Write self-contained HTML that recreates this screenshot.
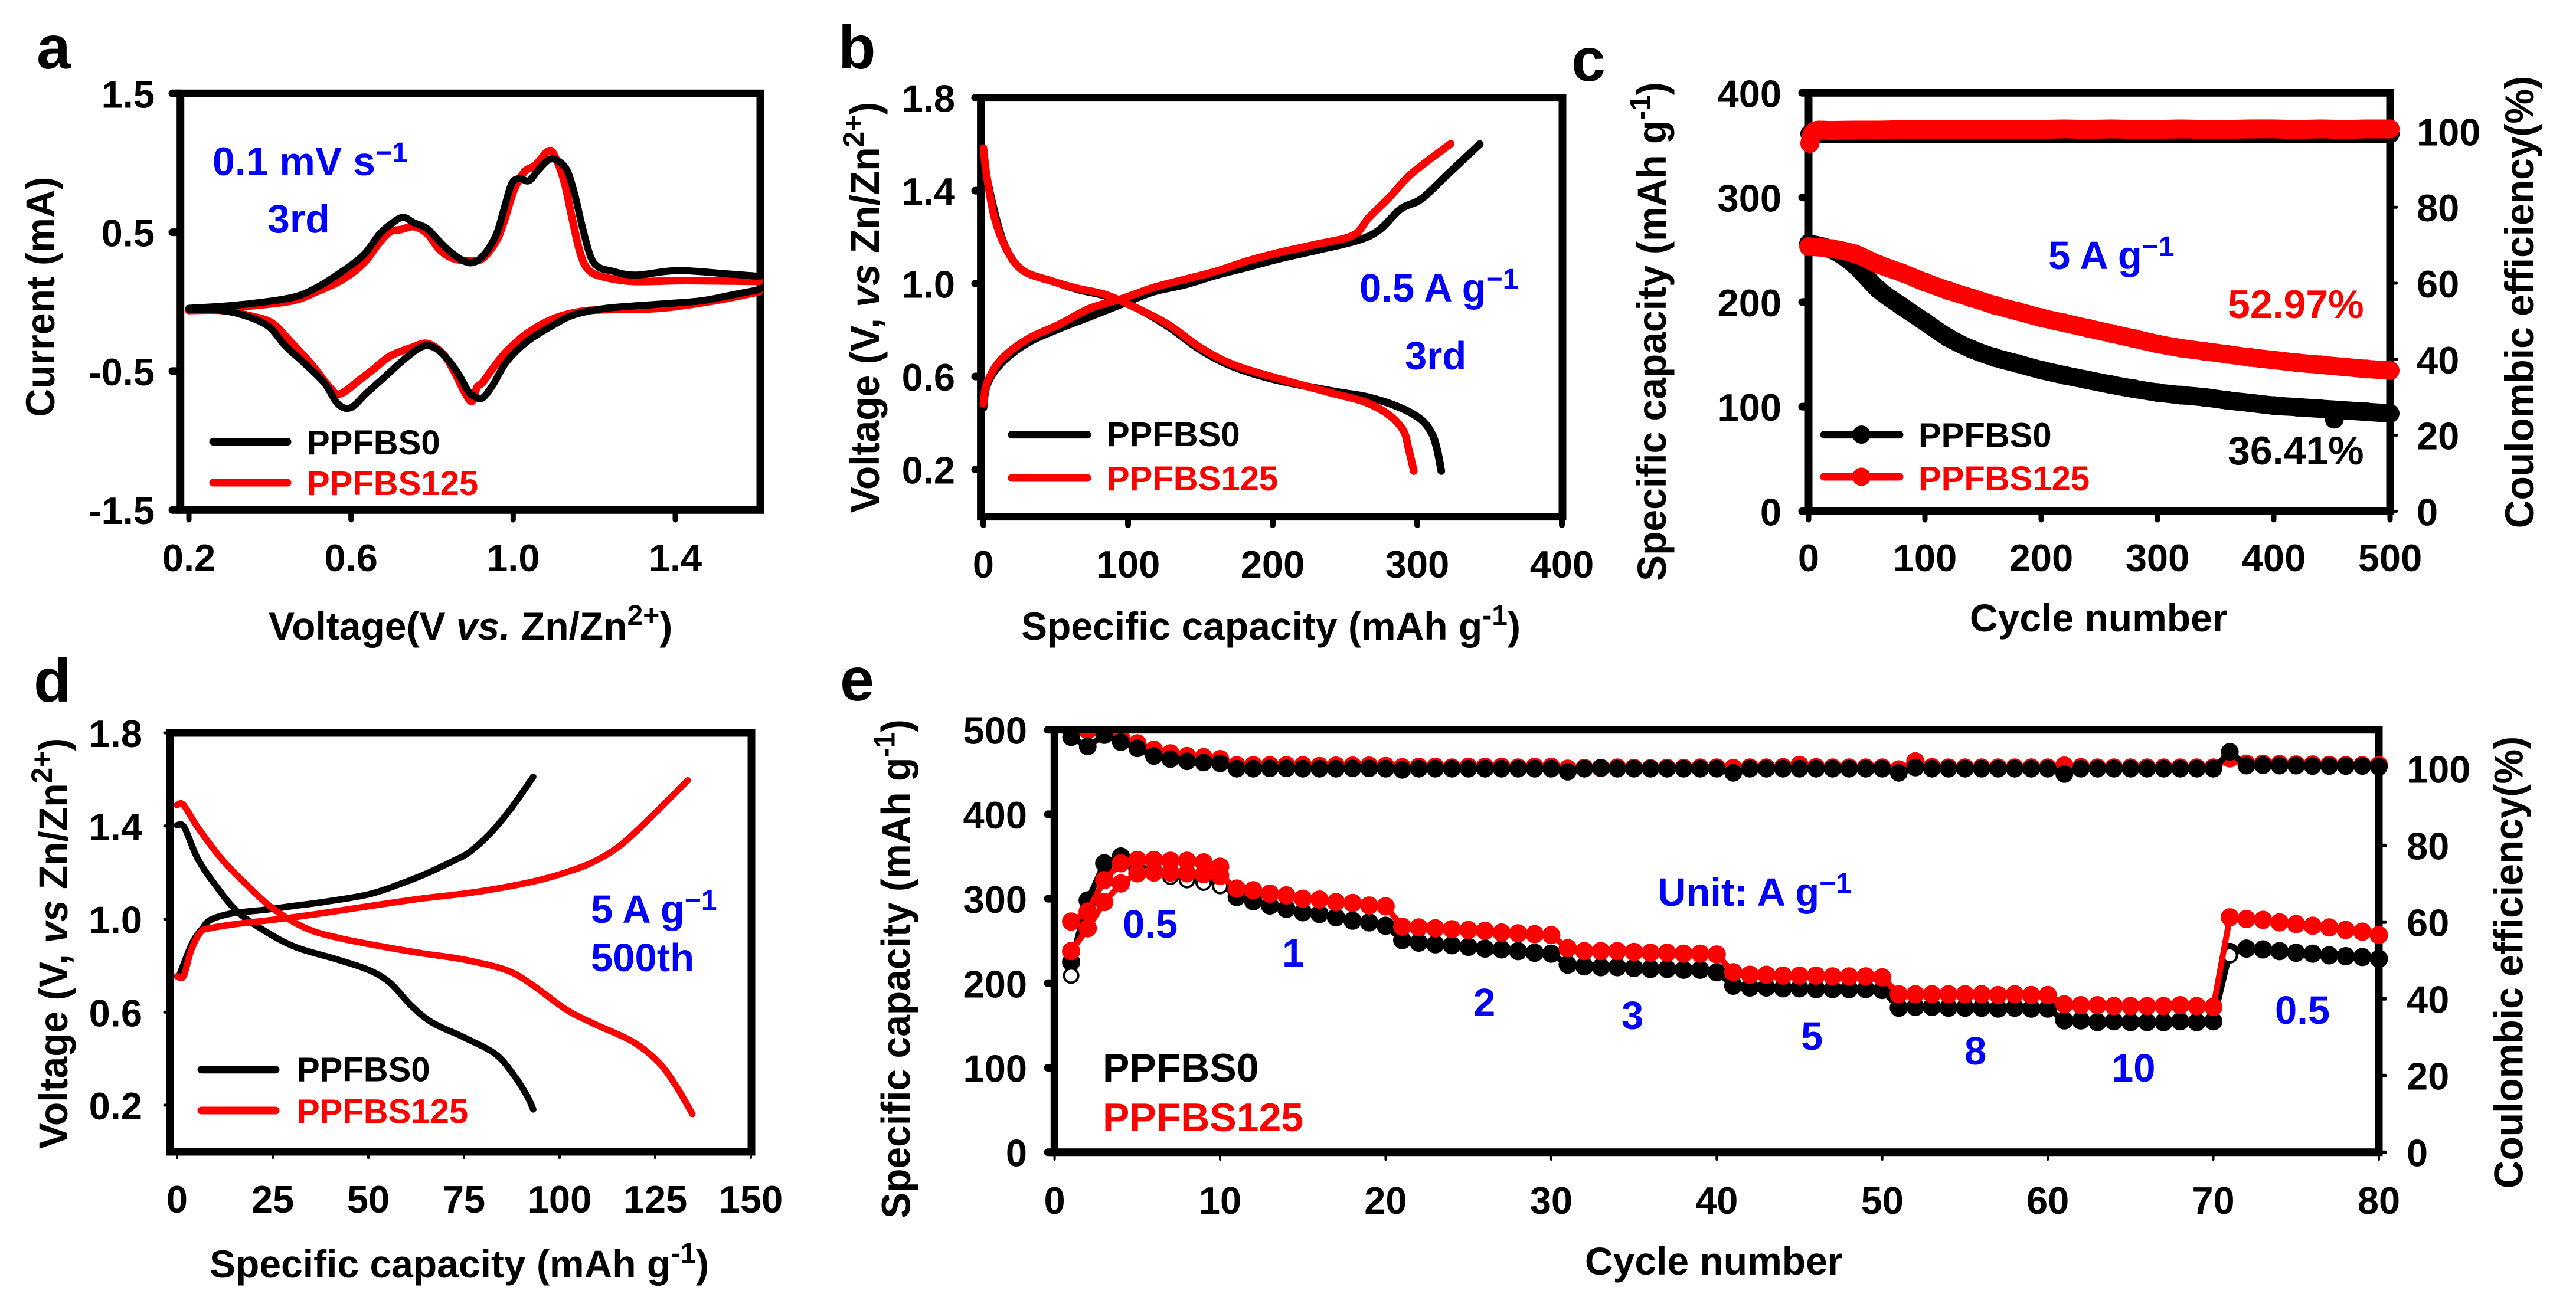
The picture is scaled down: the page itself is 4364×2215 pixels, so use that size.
<!DOCTYPE html>
<html lang="en">
<head>
<meta charset="utf-8">
<title>PPFBS battery performance figure</title>
<style>
html,body{margin:0;padding:0;background:#fff}
svg{display:block}
text{font-family:"Liberation Sans",Arial,sans-serif;font-weight:700}
.ttl{font-size:66px}
.lg{font-size:58px}
.an{font-size:67px;fill:#0000ff}
.pn{font-size:104px}
.frame{fill:none;stroke:#000;stroke-width:13}
</style>
</head>
<body>
<svg id="fig" xmlns="http://www.w3.org/2000/svg" width="4364" height="2215" viewBox="0 0 4364 2215">
<rect x="0" y="0" width="4364" height="2215" fill="#fff"/>
<defs><clipPath id="eClip"><rect x="1700" y="1243" width="2500" height="720"/></clipPath></defs>

<!-- Panel a -->
<g id="panel-a">
<text class="pn" x="62" y="116">a</text>
<rect class="frame" x="305.7" y="158.3" width="982.3" height="706"/>
<g id="a-ticks"></g><g id="a-marks"></g>
<text class="ttl" x="455" y="1084">Voltage(V <tspan font-style="italic">vs.</tspan> Zn/Zn<tspan dy="-25" font-size="48">2+</tspan><tspan dy="25">)</tspan></text>
<text class="ttl" text-anchor="middle" transform="translate(92 503) rotate(-90) scale(1 1.04)">Current (mA)</text>
<text class="an" style="font-size:68px" x="360" y="297">0.1 mV s<tspan dy="-22" font-size="48">−1</tspan></text>
<text class="an" style="font-size:68px" x="453" y="394">3rd</text>
<line x1="361" y1="748.5" x2="487" y2="748.5" stroke="#000" stroke-width="13" stroke-linecap="round"/>
<line x1="361" y1="818" x2="487" y2="818" stroke="#f00" stroke-width="13" stroke-linecap="round"/>
<text class="lg" x="520" y="770">PPFBS0</text>
<text class="lg" fill="#f00" x="520" y="839">PPFBS125</text>
</g>

<!-- Panel b -->
<g id="panel-b">
<text class="pn" x="1420" y="116">b</text>
<rect class="frame" x="1661.6" y="165.6" width="985.4" height="710"/>
<g id="b-ticks"></g><g id="b-marks"></g>
<text class="ttl" x="1730" y="1084">Specific capacity (mAh g<tspan dy="-25" font-size="48">-1</tspan><tspan dy="25">)</tspan></text>
<text class="ttl" text-anchor="middle" transform="translate(1489 521) rotate(-90) scale(1 1.04)">Voltage (V, <tspan font-style="italic">vs</tspan> Zn/Zn<tspan dy="-25" font-size="48">2+</tspan><tspan dy="25">)</tspan></text>
<text class="an" x="2303" y="511">0.5 A g<tspan dy="-22" font-size="48">−1</tspan></text>
<text class="an" x="2380" y="626">3rd</text>
<line x1="1714" y1="736.6" x2="1842" y2="736.6" stroke="#000" stroke-width="13" stroke-linecap="round"/>
<line x1="1714" y1="810" x2="1842" y2="810" stroke="#f00" stroke-width="13" stroke-linecap="round"/>
<text class="lg" x="1875" y="756">PPFBS0</text>
<text class="lg" fill="#f00" x="1875" y="831">PPFBS125</text>
</g>

<!-- Panel c -->
<g id="panel-c">
<text class="pn" x="2662" y="137">c</text>
<rect class="frame" x="3064" y="157.3" width="985" height="709"/>
<g id="c-ticks"></g><g id="c-marks"></g>
<text class="ttl" x="3337" y="1070">Cycle number</text>
<text class="ttl" text-anchor="middle" transform="translate(2822 562) rotate(-90) scale(1 1.04)">Specific capacity (mAh g<tspan dy="-25" font-size="48">-1</tspan><tspan dy="25">)</tspan></text>
<text class="ttl" text-anchor="middle" transform="translate(4292 512) rotate(-90) scale(1 1.04)">Coulombic efficiency(%)</text>
<text class="an" x="3470" y="456">5 A g<tspan dy="-22" font-size="48">−1</tspan></text>
<text class="an" style="fill:#f00;font-size:68px" x="3774" y="539">52.97%</text>
<text class="an" style="fill:#000;font-size:68px" x="3774" y="787">36.41%</text>
<line x1="3090" y1="736.6" x2="3218" y2="736.6" stroke="#000" stroke-width="13" stroke-linecap="round"/>
<circle cx="3153.5" cy="736.6" r="15.5" fill="#000"/>
<line x1="3090" y1="808" x2="3218" y2="808" stroke="#f00" stroke-width="13" stroke-linecap="round"/>
<circle cx="3153.5" cy="808" r="15.5" fill="#f00"/>
<text class="lg" x="3250" y="757.6">PPFBS0</text>
<text class="lg" fill="#f00" x="3250" y="831">PPFBS125</text>
</g>

<!-- Panel d -->
<g id="panel-d">
<text class="pn" x="57" y="1189">d</text>
<rect class="frame" x="288.4" y="1242" width="984.6" height="710"/>
<g id="d-ticks"></g><g id="d-marks"></g>
<text class="ttl" x="355" y="2165">Specific capacity (mAh g<tspan dy="-25" font-size="48">-1</tspan><tspan dy="25">)</tspan></text>
<text class="ttl" text-anchor="middle" transform="translate(114 1599) rotate(-90) scale(1 1.04)">Voltage (V, <tspan font-style="italic">vs</tspan> Zn/Zn<tspan dy="-25" font-size="48">2+</tspan><tspan dy="25">)</tspan></text>
<text class="an" x="1001" y="1564">5 A g<tspan dy="-22" font-size="48">−1</tspan></text>
<text class="an" x="1001" y="1646">500th</text>
<line x1="341" y1="1812.7" x2="467" y2="1812.7" stroke="#000" stroke-width="13" stroke-linecap="round"/>
<line x1="341" y1="1882" x2="467" y2="1882" stroke="#f00" stroke-width="13" stroke-linecap="round"/>
<text class="lg" x="503" y="1832.6">PPFBS0</text>
<text class="lg" fill="#f00" x="503" y="1903.7">PPFBS125</text>
</g>

<!-- Panel e -->
<g id="panel-e">
<text class="pn" x="1423" y="1187">e</text>
<rect class="frame" x="1786.3" y="1236.7" width="2243.7" height="716"/>
<g id="e-ticks"></g><g id="e-marks"></g>
<text class="ttl" x="2685" y="2160">Cycle number</text>
<text class="ttl" text-anchor="middle" transform="translate(1541.6 1642) rotate(-90) scale(1 1.04)">Specific capacity (mAh g<tspan dy="-25" font-size="48">-1</tspan><tspan dy="25">)</tspan></text>
<text class="ttl" text-anchor="middle" transform="translate(4273.6 1631) rotate(-90) scale(1 1.04)">Coulombic efficiency(%)</text>
<text class="an" x="2808" y="1535">Unit: A g<tspan dy="-22" font-size="48">−1</tspan></text>
<text class="an" x="1902" y="1589">0.5</text>
<text class="an" x="2172" y="1638">1</text>
<text class="an" x="2496" y="1722">2</text>
<text class="an" x="2747" y="1744">3</text>
<text class="an" x="3051" y="1779">5</text>
<text class="an" x="3328" y="1804">8</text>
<text class="an" x="3577" y="1833">10</text>
<text class="an" x="3854" y="1735">0.5</text>
<text style="font-size:68px" x="1868" y="1833">PPFBS0</text>
<text style="font-size:68px" fill="#f00" x="1868" y="1917">PPFBS125</text>
</g>
</svg>

<script>
// Panel a: cyclic voltammetry
const aBlackUpperV=[.2,.32,.45,.515,.58,.632,.671,.703,.729,.755,.788,.82,.853,.892,.924,.957,.976,.996,1.015,1.039,1.061,1.087,1.106,1.132,1.152,1.171,1.191,1.21,1.243,1.301,1.405,1.529,1.607];
const aBlackUpperI=[-.048,-.024,.027,.101,.221,.34,.489,.569,.608,.569,.525,.429,.34,.28,.325,.474,.653,.847,.886,.871,.945,1.02,1.02,.951,.772,.534,.325,.25,.221,.191,.224,.2,.182];
const aBlackLowerV=[1.607,1.529,1.464,1.36,1.23,1.152,1.1,1.035,.983,.95,.924,.905,.889,.866,.84,.814,.788,.762,.723,.684,.638,.599,.567,.534,.482,.437,.398,.346,.281,.2];
const aBlackLowerI=[.086,.042,.006,-.018,-.048,-.093,-.167,-.286,-.436,-.6,-.695,-.683,-.644,-.525,-.421,-.346,-.316,-.346,-.436,-.54,-.659,-.764,-.734,-.585,-.436,-.316,-.182,-.108,-.063,-.054];
const aRedUpperV=[.2,.32,.45,.515,.58,.632,.671,.697,.723,.755,.788,.82,.853,.892,.924,.957,.976,1.002,1.028,1.054,1.087,1.103,1.126,1.146,1.165,1.184,1.217,1.295,1.425,1.607];
const aRedUpperI=[-.063,-.039,.003,.071,.161,.28,.429,.504,.519,.54,.489,.37,.31,.295,.31,.429,.564,.802,.936,.981,1.085,1.046,.862,.593,.355,.235,.182,.146,.152,.146];
const aRedLowerV=[1.607,1.49,1.36,1.23,1.165,1.1,1.035,.983,.95,.924,.911,.898,.879,.853,.827,.788,.749,.697,.658,.625,.573,.547,.502,.45,.404,.346,.281,.2];
const aRedLowerI=[.071,.003,-.048,-.057,-.072,-.122,-.227,-.361,-.48,-.585,-.615,-.719,-.644,-.495,-.376,-.301,-.331,-.391,-.48,-.555,-.665,-.615,-.45,-.286,-.152,-.099,-.063,-.063];
const aXTicks=[.2,.6,1.0,1.4];
const aXLabels=["0.2","0.6","1.0","1.4"];
const aYTicks=[1.5,.5,-.5,-1.5];
const aYLabels=["1.5","0.5","-0.5","-1.5"];

// Panel b: 0.5 A/g charge-discharge
const bBlackChargeQ=[0,2.5,11.7,29.9,51.7,73.6,95.4,117.3,139.2,161,182.9,204.7,230.2,259.4,274,288.5,303,321.3,343.2];
const bBlackChargeV=[.465,.563,.653,.742,.804,.857,.911,.964,.995,1.036,1.071,1.107,1.143,1.187,1.232,1.321,1.365,1.472,1.6];
const bRedChargeQ=[0,2.5,11.7,29.9,51.7,73.6,95.4,117.3,139.2,161,182.9,204.7,230.2,255.7,266.7,281.2,295.8,323.1];
const bRedChargeV=[.483,.572,.67,.759,.822,.893,.934,.982,1.018,1.053,1.098,1.134,1.169,1.208,1.285,1.374,1.472,1.602];
const bBlackDischargeQ=[0,2.5,9.8,17.1,28.1,48.1,66.3,84.5,106.4,128.2,150.1,172,201.1,241.2,266.7,288.5,303.1,310.4,314,316.6];
const bBlackDischargeV=[1.579,1.454,1.258,1.134,1.053,1.009,.973,.947,.893,.813,.715,.644,.587,.537,.51,.465,.412,.35,.278,.193];
const bRedDischargeQ=[0,2.5,8,17.1,28.1,48.1,66.3,84.5,106.4,128.2,150.1,172,201.1,241.2,263,279.4,290.3,294,297.6];
const bRedDischargeV=[1.583,1.454,1.276,1.134,1.053,1.009,.977,.952,.893,.822,.724,.653,.596,.528,.492,.439,.368,.288,.193];
const bXTicks=[0,100,200,300,400];
const bXLabels=["0","100","200","300","400"];
const bYTicks=[1.8,1.4,1.0,.6,.2];
const bYLabels=["1.8","1.4","1.0","0.6","0.2"];

// Panel c: long-term cycling at 5 A/g
const cCycles=[0,20,40,60,80,100,120,140,160,180,200,220,240,260,280,300,320,340,360,380,400,420,440,460,480,500];
const cBlackCapacity=[256,250,235,212,196,181,166,155,147,141,135,130,125.5,121,117,113.5,111,109,106,103.5,101,99.5,98,96.5,95,93.5];
const cRedCapacity=[253,251,246,236,228,219,211,204,197,191,185,180,175,170,165,160,156,153,150,147,144.5,142,140,138,136,134.5];
const cCECycles=[1,5,20,40,60,80,100,120,140,160,180,200,220,240,260,280,300,320,340,360,380,400,420,440,460,480,500];
const cBlackCE=[99.3,99.3,99.3,99.3,99.3,99.3,99.3,99.3,99.3,99.3,99.3,99.3,99.3,99.3,99.3,99.3,99.3,99.3,99.3,99.3,99.3,99.3,99.3,99.3,99.3,99.3,99.3];
const cRedCE=[96.8,100,100.2,100.3,100.3,100.4,100.4,100.4,100.5,100.4,100.5,100.5,100.6,100.5,100.6,100.5,100.5,100.6,100.5,100.5,100.6,100.6,100.5,100.6,100.5,100.6,100.6];
const cOutlierCycles=[452];
const cOutlierValues=[88];
const cXTicks=[0,100,200,300,400,500];
const cXLabels=["0","100","200","300","400","500"];
const cLeftTicks=[0,100,200,300,400];
const cLeftLabels=["0","100","200","300","400"];
const cRightTicks=[0,20,40,60,80,100];
const cRightLabels=["0","20","40","60","80","100"];

// Panel d: 5 A/g, 500th cycle
const dBlackChargeQ=[.5,4,6.7,8.8,14.3,22.6,30.9,39.1,50.1,58.4,65.3,72.2,76.3,81.8,87.3,93.1];
const dBlackChargeV=[.754,.898,.961,.997,1.024,1.039,1.057,1.075,1.106,1.151,1.196,1.25,1.286,1.367,1.475,1.611];
const dRedChargeQ=[0,1.7,3.6,6.1,8.8,15.7,25.3,36.4,50.1,63.9,77.7,92.8,102.5,109.4,116.3,124.5,133.5];
const dRedChargeV=[.754,.754,.862,.943,.961,.979,.997,1.021,1.055,1.088,1.115,1.16,1.205,1.25,1.322,1.448,1.596];
const dBlackDischargeQ=[0,1.9,5.4,10.2,15.7,22.6,30.9,41.9,50.1,55.6,61.2,66.7,74.9,83.2,88,91.5,93.1];
const dBlackDischargeV=[1.403,1.394,1.259,1.142,1.033,.952,.88,.826,.781,.727,.628,.555,.492,.42,.33,.24,.182];
const dRedDischargeQ=[0,1.7,5.4,11.6,18.5,25.3,33.6,41.9,52.9,63.9,74.9,86,92.8,101.8,109.4,119,125.9,130.7,134.7];
const dRedDischargeV=[1.49,1.49,1.394,1.259,1.142,1.042,.961,.92,.884,.853,.826,.781,.718,.61,.547,.474,.384,.276,.162];
const dXTicks=[0,25,50,75,100,125,150];
const dXLabels=["0","25","50","75","100","125","150"];
const dYTicks=[1.8,1.4,1.0,.6,.2];
const dYLabels=["1.8","1.4","1.0","0.6","0.2"];

// Panel e: rate capability
const eCycles=[1,2,3,4,5,6,7,8,9,10,11,12,13,14,15,16,17,18,19,20,21,22,23,24,25,26,27,28,29,30,31,32,33,34,35,36,37,38,39,40,41,42,43,44,45,46,47,48,49,50,51,52,53,54,55,56,57,58,59,60,61,62,63,64,65,66,67,68,69,70,71,72,73,74,75,76,77,78,79,80];
const eBlackCapacity=[225,298,342,350,335,332,329,326,323,320,302,297,292,288,284,282,278,274,272,268,251,248,246,245,243,241,240,238,236,235,222,220,219,219,218,217,217,216,216,213,197,195,195,194,194,193,193,193,193,192,171,172,172,171,171,171,170,171,170,170,156,156,154,155,154,154,154,155,154,155,237,241,240,238,236,235,233,232,231,229];
const eRedCapacity=[238,265,296,318,330,331,331,330,329,327,312,310,306,304,300,299,296,295,292,291,267,266,265,264,263,262,260,259,258,257,241.5,238,238,238,237,236,236,235,235,234,213,210,210,209,209,209,208,208,208,207,187,187,187,187,187,187,186,187,186,186,175,174,174,173,173,173,173,174,173,172,278,276,275,272,270,268,266,263,261,257];
const eRedEarlyCycles=[1,2,3,4,5,6,7,8,9,10];
const eRedEarlyCapacity=[273,285,322,342,346,346,345,345,343,338];
const eHollowCycles=[1,5,6,7,8,9,10,71];
const eHollowCapacity=[209,333,330,326,322,319,315,233];
const eBlackCE=[108.2,105.8,108.8,106.9,105.3,103.3,102.5,101.9,101.6,101.4,100,100,100.1,100.1,100,100,100,100.1,100.1,100,99.7,100,100,100,100,100,100,100,100,100,99.2,100,100.2,100,100,100,100,100,100,100,98.9,100,100,100,100,100,100,100,100,100,98.9,100.3,100,100,100,100,100,100,100,100,98.6,100,100,100,100,100,100,100,100,100,104.4,100.8,100.9,100.8,100.8,100.7,100.7,100.7,100.7,100.5];
const eRedCE=[111,110,108.8,108.2,106.6,104.9,104,103.3,103,102.5,100.9,100.9,100.9,100.9,100.9,100.7,100.8,100.8,100.8,100.7,100.4,100.5,100.5,100.3,100.5,100.5,100.5,100.3,100.5,100.5,100,100.2,100.2,100.3,100.2,100.1,100.2,100.2,100.3,100.3,100.2,100.3,100.3,100.4,101,100.4,100.3,100.3,100.3,100.3,99.8,101.9,100.4,100.3,100.3,100.3,100.3,100.3,100.3,100.3,100.8,100.4,100.3,100.3,100.3,100.3,100.3,100.3,100.3,100.3,102.7,101.3,101.3,101.2,101.1,101.1,101,100.9,100.9,100.9];
const eXTicks=[0,10,20,30,40,50,60,70,80];
const eXLabels=["0","10","20","30","40","50","60","70","80"];
const eLeftTicks=[0,100,200,300,400,500];
const eLeftLabels=["0","100","200","300","400","500"];
const eRightTicks=[0,20,40,60,80,100];
const eRightLabels=["0","20","40","60","80","100"];

const NS='http://www.w3.org/2000/svg';
const BLACK='#000',RED='#f00';
const TICK_FONT=65;

function scale(d0,d1,r0,r1){return v=>r0+(v-d0)*(r1-r0)/(d1-d0);}

function byId(id){return document.getElementById(id);}

function smoothPath(pts){
  let d='M'+pts[0][0].toFixed(1)+' '+pts[0][1].toFixed(1);
  for(let i=0;i<pts.length-1;i++){
    const p0=pts[Math.max(i-1,0)],p1=pts[i],p2=pts[i+1],p3=pts[Math.min(i+2,pts.length-1)];
    const c1x=p1[0]+(p2[0]-p0[0])/6,c1y=p1[1]+(p2[1]-p0[1])/6;
    const c2x=p2[0]-(p3[0]-p1[0])/6,c2y=p2[1]-(p3[1]-p1[1])/6;
    d+='C'+c1x.toFixed(1)+' '+c1y.toFixed(1)+' '+c2x.toFixed(1)+' '+c2y.toFixed(1)+' '+p2[0].toFixed(1)+' '+p2[1].toFixed(1);
  }
  return d;
}

function drawCurve(parent,xs,ys,sx,sy,color,width,name,straight){
  const el=document.createElementNS(NS,'path');
  
  
  const pts=xs.map((v,i)=>[sx(v),sy(ys[i])]);
  el.setAttribute('d',straight?pts.map((p,i)=>(i?'L':'M')+p[0].toFixed(1)+' '+p[1].toFixed(1)).join(''):smoothPath(pts));
  el.setAttribute('fill','none');
  el.setAttribute('stroke',color);
  el.setAttribute('stroke-width',width);
  el.setAttribute('stroke-linejoin','round');
  el.setAttribute('stroke-linecap','round');
  parent.appendChild(el);
}

function drawPoints(parent,xs,ys,sx,sy,color,r,name,hollow){
  xs.forEach((v,i)=>{
    const el=document.createElementNS(NS,'circle');
    
    
    el.setAttribute('cx',sx(v).toFixed(1));
    el.setAttribute('cy',sy(ys[i]).toFixed(1));
    el.setAttribute('r',r);
    if(hollow){
      el.setAttribute('fill','#fff');
      el.setAttribute('stroke',color);
      el.setAttribute('stroke-width','4');
    }else{
      el.setAttribute('fill',color);
    }
    parent.appendChild(el);
  });
}

function drawTick(parent,x1,y1,x2,y2,w,name){
  const el=document.createElementNS(NS,'line');
  
  
  el.setAttribute('x1',x1);
  el.setAttribute('y1',y1);
  el.setAttribute('x2',x2);
  el.setAttribute('y2',y2);
  el.setAttribute('stroke',BLACK);
  el.setAttribute('stroke-width',w);
  el.setAttribute('stroke-linecap','round');
  parent.appendChild(el);
}

function drawLabel(parent,x,y,anchor,txt,name){
  const el=document.createElementNS(NS,'text');
  
  
  el.setAttribute('x',x);
  el.setAttribute('y',y);
  el.setAttribute('text-anchor',anchor);
  el.setAttribute('font-size',TICK_FONT);
  el.textContent=txt;
  parent.appendChild(el);
}

function xAxis(parent,vals,labels,sx,spineY,tipY,w,labelY,name){
  vals.forEach((v,i)=>{
    drawTick(parent,sx(v),spineY,sx(v),tipY,w,name+'-tick');
    drawLabel(parent,sx(v),labelY,'middle',labels[i],name+'-tick-label');
  });
}

function yAxis(parent,vals,labels,sy,spineX,tipX,w,labelX,anchor,name){
  vals.forEach((v,i)=>{
    drawTick(parent,spineX,sy(v),tipX,sy(v),w,name+'-tick');
    drawLabel(parent,labelX,sy(v)+24,anchor,labels[i],name+'-tick-label');
  });
}

// Panel a
(function(){
  const sx=scale(.2,1.4,320,1144),sy=scale(1.5,-1.5,158.3,864.2);
  const t=byId('a-ticks'),m=byId('a-marks');
  xAxis(t,aXTicks,aXLabels,sx,864,881,9,968,'x-axis-a');
  yAxis(t,aYTicks,aYLabels,sy,305.7,292,13,262,'end','y-axis-a');
  drawCurve(m,aRedUpperV,aRedUpperI,sx,sy,RED,13,'ppfbs125-anodic-curve');
  drawCurve(m,aRedLowerV,aRedLowerI,sx,sy,RED,13,'ppfbs125-cathodic-curve');
  drawCurve(m,aBlackUpperV,aBlackUpperI,sx,sy,BLACK,12,'ppfbs0-anodic-curve');
  drawCurve(m,aBlackLowerV,aBlackLowerI,sx,sy,BLACK,12,'ppfbs0-cathodic-curve');
})();

// Panel b
(function(){
  const sx=scale(0,400,1666,2646),sy=scale(1.8,.2,165.6,795.5);
  const t=byId('b-ticks'),m=byId('b-marks');
  xAxis(t,bXTicks,bXLabels,sx,875,890,10,979,'x-axis-b');
  yAxis(t,bYTicks,bYLabels,sy,1661.6,1652,13,1618,'end','y-axis-b');
  drawCurve(m,bBlackChargeQ,bBlackChargeV,sx,sy,BLACK,13,'ppfbs0-charge-curve');
  drawCurve(m,bBlackDischargeQ,bBlackDischargeV,sx,sy,BLACK,13,'ppfbs0-discharge-curve');
  drawCurve(m,bRedChargeQ,bRedChargeV,sx,sy,RED,13,'ppfbs125-charge-curve');
  drawCurve(m,bRedDischargeQ,bRedDischargeV,sx,sy,RED,13,'ppfbs125-discharge-curve');
})();

// Panel c
(function(){
  const sx=scale(0,500,3064,4049),sy=scale(0,400,866.4,157.3),sr=scale(0,100,866.4,222.4);
  const t=byId('c-ticks'),m=byId('c-marks');
  xAxis(t,cXTicks,cXLabels,sx,866,881,9,968,'x-axis-c');
  yAxis(t,cLeftTicks,cLeftLabels,sy,3064,3053,13,3018,'end','y-axis-left-c');
  yAxis(t,cRightTicks,cRightLabels,sr,4049,4060,5,4094,'start','y-axis-right-c');
  drawCurve(m,cCECycles,cBlackCE,sx,sr,BLACK,32,'ppfbs0-efficiency-line');
  drawPoints(m,cCECycles,cBlackCE,sx,sr,BLACK,16,'ppfbs0-efficiency-point');
  drawCurve(m,cCECycles,cRedCE,sx,sr,RED,32,'ppfbs125-efficiency-line');
  drawPoints(m,cCECycles,cRedCE,sx,sr,RED,16,'ppfbs125-efficiency-point');
  drawCurve(m,cCycles,cBlackCapacity,sx,sy,BLACK,31,'ppfbs0-capacity-line');
  drawPoints(m,cCycles,cBlackCapacity,sx,sy,BLACK,16,'ppfbs0-capacity-point');
  drawPoints(m,cOutlierCycles,cOutlierValues,sx,sy,BLACK,16,'ppfbs0-capacity-outlier');
  drawCurve(m,cCycles,cRedCapacity,sx,sy,RED,31,'ppfbs125-capacity-line');
  drawPoints(m,cCycles,cRedCapacity,sx,sy,RED,16,'ppfbs125-capacity-point');
})();

// Panel d
(function(){
  const sx=scale(0,150,300,1272),sy=scale(1.8,.2,1242,1873);
  const t=byId('d-ticks'),m=byId('d-marks');
  xAxis(t,dXTicks,dXLabels,sx,1952,1962,4,2055,'x-axis-d');
  yAxis(t,dYTicks,dYLabels,sy,288.4,279,5,241,'end','y-axis-d');
  drawCurve(m,dBlackChargeQ,dBlackChargeV,sx,sy,BLACK,11,'ppfbs0-charge-curve');
  drawCurve(m,dBlackDischargeQ,dBlackDischargeV,sx,sy,BLACK,11,'ppfbs0-discharge-curve');
  drawCurve(m,dRedDischargeQ,dRedDischargeV,sx,sy,RED,11,'ppfbs125-discharge-curve');
  drawCurve(m,dRedChargeQ,dRedChargeV,sx,sy,RED,11,'ppfbs125-charge-curve');
})();

// Panel e
(function(){
  const sx=scale(0,80,1786.6,4030),sy=scale(0,500,1952.7,1236.7),sr=scale(0,100,1952.7,1302.7);
  const t=byId('e-ticks'),m=byId('e-marks');
  xAxis(t,eXTicks,eXLabels,sx,1952,1965,4,2057,'x-axis-e');
  yAxis(t,eLeftTicks,eLeftLabels,sy,1786.3,1775,13,1740,'end','y-axis-left-e');
  yAxis(t,eRightTicks,eRightLabels,sr,4030,4041,6,4077,'start','y-axis-right-e');
  const ceGroup=document.createElementNS(NS,'g');
  
  
  ceGroup.setAttribute('clip-path','url(#eClip)');
  m.appendChild(ceGroup);
  drawCurve(m,eCycles,eBlackCapacity,sx,sy,BLACK,10,'ppfbs0-capacity-line',true);
  drawPoints(m,eCycles,eBlackCapacity,sx,sy,BLACK,15.5,'ppfbs0-capacity-point');
  drawPoints(m,eHollowCycles,eHollowCapacity,sx,sy,BLACK,12,'ppfbs0-charge-capacity-point',true);
  drawCurve(m,eRedEarlyCycles,eRedEarlyCapacity,sx,sy,RED,10,'ppfbs125-early-capacity-line',true);
  drawPoints(m,eRedEarlyCycles,eRedEarlyCapacity,sx,sy,RED,15.5,'ppfbs125-early-capacity-point');
  drawCurve(m,eCycles,eRedCapacity,sx,sy,RED,10,'ppfbs125-capacity-line',true);
  drawPoints(m,eCycles,eRedCapacity,sx,sy,RED,15.5,'ppfbs125-capacity-point');
  drawCurve(ceGroup,eCycles,eRedCE,sx,sr,RED,10,'ppfbs125-efficiency-line',true);
  drawPoints(ceGroup,eCycles,eRedCE,sx,sr,RED,15.5,'ppfbs125-efficiency-point');
  drawCurve(ceGroup,eCycles,eBlackCE,sx,sr,BLACK,10,'ppfbs0-efficiency-line',true);
  drawPoints(ceGroup,eCycles,eBlackCE,sx,sr,BLACK,15,'ppfbs0-efficiency-point');
})();
</script>
</body>
</html>
